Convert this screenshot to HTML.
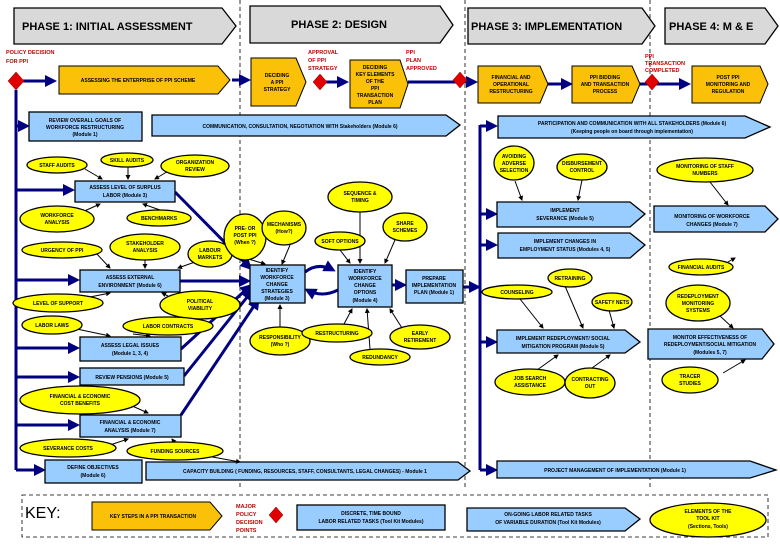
<!DOCTYPE html>
<html><head><meta charset="utf-8"><style>
body{margin:0;background:#fff}
svg text{font-family:"Liberation Sans",sans-serif;font-weight:bold;font-size:5px;text-anchor:middle;fill:#000}
.o{fill:#fbc108;stroke:#000;stroke-width:1}
.b{fill:#99ccff;stroke:#000;stroke-width:1.3}
.y{fill:#ffff00;stroke:#000;stroke-width:1.3}
.g{fill:#d9d9d9;stroke:#000;stroke-width:1.3}
.a{stroke:#000080;stroke-width:3;fill:none}
.k{stroke:#000;stroke-width:1;fill:none}
.r{fill:#e00000;stroke:#900;stroke-width:.5}
.rt{fill:#c00000;text-anchor:start;font-size:5.5px}
.ph{font-size:11px;text-anchor:start}
</style></head><body>
<svg width="780" height="540" viewBox="0 0 780 540" xmlns="http://www.w3.org/2000/svg">
<defs>
<marker id="na" markerWidth="4" markerHeight="4" refX="3" refY="2" orient="auto"><path d="M0,0 L4,2 L0,4z" fill="#000080"/></marker>
<marker id="ka" markerWidth="5" markerHeight="5" refX="4" refY="2.5" orient="auto"><path d="M0,0 L5,2.5 L0,5z" fill="#000"/></marker>
</defs>
<g stroke="#000" stroke-width=".8" stroke-dasharray="4,3">
<line x1="240" y1="0" x2="240" y2="490"/><line x1="465" y1="0" x2="465" y2="490"/><line x1="650" y1="0" x2="650" y2="490"/>
<rect x="22" y="495" width="746" height="42" fill="none"/>
</g>
<polygon class="g" points="14,8 222,8 236,26 222,44 14,44"/><text class="ph" x="22" y="30">PHASE 1:  INITIAL ASSESSMENT</text>
<polygon class="g" points="250,6 440,6 453,25 440,43 250,43"/><text class="ph" x="291" y="28">PHASE 2:  DESIGN</text>
<polygon class="g" points="468,8 642,8 655,26 642,44 468,44"/><text class="ph" x="471" y="30">PHASE 3: IMPLEMENTATION</text>
<polygon class="g" points="665,8 765,8 778,26 765,44 665,44"/><text class="ph" x="669" y="30">PHASE 4:  M &amp; E</text>
<text class="rt" x="6" y="54">POLICY DECISION</text><text class="rt" x="6" y="63">FOR PPI</text>
<text class="rt" x="308" y="54">APPROVAL</text><text class="rt" x="308" y="62">OF PPI</text><text class="rt" x="308" y="70">STRATEGY</text>
<text class="rt" x="406" y="54">PPI</text><text class="rt" x="406" y="62">PLAN</text><text class="rt" x="406" y="70">APPROVED</text>
<text class="rt" x="645" y="58">PPI</text><text class="rt" x="645" y="65">TRANSACTION</text><text class="rt" x="645" y="72">COMPLETED</text>
<line class="a" x1="22" y1="81" x2="54" y2="81" marker-end="url(#na)"/>
<line class="a" x1="232" y1="80" x2="248" y2="80" marker-end="url(#na)"/>
<line class="a" x1="326" y1="82" x2="346" y2="82" marker-end="url(#na)"/>
<line class="a" x1="408" y1="82" x2="475" y2="82" marker-end="url(#na)"/>
<line class="a" x1="548" y1="84" x2="570" y2="84" marker-end="url(#na)"/>
<line class="a" x1="640" y1="84" x2="688" y2="84" marker-end="url(#na)"/>
<polygon class="o" points="59,66 218,66 230,80 218,94 59,94"/><text x="138" y="82">ASSESSING THE ENTERPRISE OF PPI SCHEME</text>
<polygon class="o" points="251,58 296,58 306,82 296,106 251,106"/><text x="277" y="77">DECIDING</text><text x="277" y="84">A PPI</text><text x="277" y="91">STRATEGY</text>
<polygon class="o" points="350,60 400,60 408,84 400,108 350,108"/><text x="375" y="69">DECIDING</text><text x="375" y="76">KEY ELEMENTS</text><text x="375" y="83">OF THE</text><text x="375" y="90">PPI</text><text x="375" y="97">TRANSACTION</text><text x="375" y="104">PLAN</text>
<polygon class="o" points="478,66 540,66 548,84 540,103 478,103"/><text x="511" y="79">FINANCIAL AND</text><text x="511" y="86">OPERATIONAL</text><text x="511" y="93">RESTRUCTURING</text>
<polygon class="o" points="572,66 632,66 640,84 632,103 572,103"/><text x="605" y="79">PPI BIDDING</text><text x="605" y="86">AND TRANSACTION</text><text x="605" y="93">PROCESS</text>
<polygon class="o" points="692,66 760,66 768,84 760,103 692,103"/><text x="728" y="79">POST PPI</text><text x="728" y="86">MONITORING AND</text><text x="728" y="93">REGULATION</text>
<polygon class="r" points="16,72 24,81 16,90 8,81"/>
<polygon class="r" points="320,74 327,82 320,90 313,82"/>
<polygon class="r" points="460,72 467,80 460,88 453,80"/>
<polygon class="r" points="652,74 659,82 652,90 645,82"/>
<line class="a" x1="16" y1="90" x2="16" y2="470"/>
<line class="a" x1="16" y1="126" x2="27" y2="126" marker-end="url(#na)"/>
<line class="a" x1="16" y1="190" x2="72" y2="190" marker-end="url(#na)"/>
<line class="a" x1="16" y1="280" x2="77" y2="280" marker-end="url(#na)"/>
<line class="a" x1="16" y1="348" x2="77" y2="348" marker-end="url(#na)"/>
<line class="a" x1="16" y1="377" x2="77" y2="377" marker-end="url(#na)"/>
<line class="a" x1="16" y1="425" x2="77" y2="425" marker-end="url(#na)"/>
<line class="a" x1="16" y1="470" x2="43" y2="470" marker-end="url(#na)"/>
<g class="a" marker-end="url(#na)">
<line x1="175" y1="192" x2="250" y2="268"/>
<line x1="180" y1="281" x2="248" y2="281"/>
<line x1="181" y1="349" x2="250" y2="286"/>
<line x1="184" y1="376" x2="252" y2="291"/>
<line x1="181" y1="415" x2="258" y2="300"/>
<path d="M305,272 Q318,262 333,270"/>
<path d="M338,290 Q322,298 307,290"/>
<line x1="392" y1="285" x2="404" y2="285"/>
<line x1="463" y1="287" x2="478" y2="287"/>
</g>
<line class="a" x1="480" y1="125" x2="480" y2="470"/>
<g class="a" marker-end="url(#na)">
<line x1="480" y1="126" x2="495" y2="126"/>
<line x1="480" y1="214" x2="495" y2="214"/>
<line x1="480" y1="245" x2="495" y2="245"/>
<line x1="480" y1="342" x2="495" y2="342"/>
<line x1="480" y1="470" x2="495" y2="470"/>
</g>
<rect class="b" x="29" y="112" width="113" height="29"/><text x="85" y="122">REVIEW OVERALL GOALS OF</text><text x="85" y="129">WORKFORCE RESTRUCTURING</text><text x="85" y="136">(Module 1)</text>
<polygon class="b" points="152,115 446,115 460,125 446,136 152,136"/><text x="300" y="128">COMMUNICATION, CONSULTATION, NEGOTIATION WITH Stakeholders (Module 6)</text>
<polygon class="b" points="498,116 745,116 770,127 745,138 498,138"/><text x="632" y="125">PARTICIPATION AND COMMUNICATION WITH ALL STAKEHOLDERS (Module 6)</text><text x="632" y="133">(Keeping people on board through implementation)</text>
<rect class="b" x="75" y="181" width="100" height="21"/><text x="125" y="189">ASSESS LEVEL OF SURPLUS</text><text x="125" y="197">LABOR (Module 3)</text>
<rect class="b" x="80" y="270" width="100" height="22"/><text x="130" y="279">ASSESS EXTERNAL</text><text x="130" y="287">ENVIRONMENT (Module 6)</text>
<rect class="b" x="80" y="337" width="101" height="24"/><text x="130" y="347">ASSESS LEGAL ISSUES</text><text x="130" y="355">(Module 1, 3, 4)</text>
<rect class="b" x="80" y="368" width="104" height="17"/><text x="132" y="379">REVIEW PENSIONS (Module 5)</text>
<rect class="b" x="80" y="415" width="101" height="22"/><text x="130" y="424">FINANCIAL &amp; ECONOMIC</text><text x="130" y="432">ANALYSIS (Module 7)</text>
<rect class="b" x="45" y="460" width="97" height="23"/><text x="93" y="469">DEFINE OBJECTIVES</text><text x="93" y="477">(Module 6)</text>
<polygon class="b" points="146,462 458,462 470,471 458,480 146,480"/><text x="305" y="473">CAPACITY BUILDING   ( FUNDING, RESOURCES, STAFF, CONSULTANTS, LEGAL CHANGES) - Module 1</text>
<rect class="b" x="250" y="265" width="55" height="38"/><text x="277" y="272">IDENTIFY</text><text x="277" y="279">WORKFORCE</text><text x="277" y="286">CHANGE</text><text x="277" y="293">STRATEGIES</text><text x="277" y="300">(Module 3)</text>
<rect class="b" x="338" y="265" width="54" height="42"/><text x="365" y="273">IDENTIFY</text><text x="365" y="280">WORKFORCE</text><text x="365" y="287">CHANGE</text><text x="365" y="294">OPTIONS</text><text x="365" y="302">(Module 4)</text>
<rect class="b" x="406" y="270" width="57" height="33"/><text x="434" y="280">PREPARE</text><text x="434" y="287">IMPLEMENTATION</text><text x="434" y="294">PLAN (Module 1)</text>
<polygon class="b" points="497,202 630,202 645,214 630,227 497,227"/><text x="565" y="212">IMPLEMENT</text><text x="565" y="220">SEVERANCE (Module 5)</text>
<polygon class="b" points="498,233 630,233 645,245 630,258 498,258"/><text x="565" y="243">IMPLEMENT CHANGES IN</text><text x="565" y="251">EMPLOYMENT STATUS (Modules 4, 5)</text>
<polygon class="b" points="497,330 625,330 640,342 625,353 497,353"/><text x="563" y="340">IMPLEMENT REDEPLOYMENT/ SOCIAL</text><text x="563" y="348">MITIGATION PROGRAM (Module 5)</text>
<polygon class="b" points="497,461 750,461 776,470 750,478 497,478"/><text x="615" y="472">PROJECT MANAGEMENT OF IMPLEMENTATION (Module 1)</text>
<polygon class="b" points="654,206 765,206 778,219 765,232 654,232"/><text x="712" y="218">MONITORING OF WORKFORCE</text><text x="712" y="226">CHANGES (Module 7)</text>
<polygon class="b" points="648,329 762,329 774,344 762,359 648,359"/><text x="710" y="339">MONITOR EFFECTIVENESS OF</text><text x="710" y="346">REDEPLOYMENT/SOCIAL MITIGATION</text><text x="710" y="354">(Modules 5, 7)</text>
<g class="k" marker-end="url(#ka)">
<line x1="85" y1="169" x2="102" y2="179"/><line x1="128" y1="167" x2="128" y2="179"/><line x1="170" y1="170" x2="155" y2="179"/>
<line x1="80" y1="213" x2="100" y2="204"/><line x1="160" y1="210" x2="143" y2="204"/>
<line x1="95" y1="252" x2="110" y2="268"/><line x1="145" y1="260" x2="145" y2="268"/><line x1="195" y1="262" x2="178" y2="268"/>
<line x1="80" y1="299" x2="110" y2="293"/><line x1="168" y1="296" x2="162" y2="293"/>
<line x1="72" y1="328" x2="110" y2="336"/><line x1="133" y1="334" x2="150" y2="336"/>
<line x1="130" y1="405" x2="148" y2="413"/><line x1="110" y1="445" x2="128" y2="439"/><line x1="185" y1="452" x2="240" y2="462"/><line x1="175" y1="443" x2="172" y2="439"/>
<line x1="245" y1="258" x2="265" y2="264"/><line x1="290" y1="245" x2="282" y2="264"/><line x1="280" y1="327" x2="280" y2="305"/>
<line x1="360" y1="212" x2="360" y2="263"/><line x1="340" y1="250" x2="350" y2="263"/><line x1="395" y1="240" x2="385" y2="263"/>
<line x1="344" y1="324" x2="352" y2="309"/><line x1="370" y1="349" x2="367" y2="309"/><line x1="402" y1="328" x2="390" y2="309"/>
<line x1="515" y1="181" x2="522" y2="200"/><line x1="582" y1="180" x2="578" y2="200"/>
<line x1="710" y1="182" x2="728" y2="205"/><line x1="705" y1="275" x2="735" y2="258"/>
<line x1="520" y1="299" x2="543" y2="328"/><line x1="565" y1="286" x2="583" y2="328"/><line x1="609" y1="310" x2="614" y2="328"/>
<line x1="537" y1="370" x2="558" y2="355"/><line x1="592" y1="368" x2="610" y2="355"/>
<line x1="720" y1="316" x2="733" y2="328"/><line x1="723" y1="373" x2="745" y2="360"/>
</g>
<g class="y">
<ellipse cx="57" cy="165" rx="30" ry="8"/><ellipse cx="127" cy="160" rx="26" ry="7"/><ellipse cx="195" cy="166" rx="34" ry="11"/>
<ellipse cx="57" cy="219" rx="37" ry="13"/><ellipse cx="159" cy="218" rx="32" ry="8"/><ellipse cx="62" cy="250" rx="40" ry="8"/><ellipse cx="145" cy="247" rx="35" ry="13"/><ellipse cx="210" cy="254" rx="22" ry="13"/>
<ellipse cx="245" cy="237" rx="21" ry="23"/><ellipse cx="284" cy="228" rx="22" ry="17"/><ellipse cx="360" cy="197" rx="32" ry="15"/><ellipse cx="340" cy="241" rx="25" ry="9"/><ellipse cx="405" cy="227" rx="22" ry="14"/>
<ellipse cx="58" cy="303" rx="45" ry="9"/><ellipse cx="200" cy="305" rx="40" ry="14"/><ellipse cx="52" cy="325" rx="30" ry="9"/><ellipse cx="168" cy="326" rx="45" ry="9"/>
<ellipse cx="80" cy="400" rx="60" ry="14"/><ellipse cx="68" cy="448" rx="48" ry="9"/><ellipse cx="175" cy="451" rx="48" ry="9"/>
<ellipse cx="280" cy="341" rx="30" ry="14"/><ellipse cx="337" cy="333" rx="35" ry="9"/><ellipse cx="380" cy="357" rx="30" ry="8"/><ellipse cx="420" cy="337" rx="30" ry="12"/>
<ellipse cx="514" cy="163" rx="20" ry="17"/><ellipse cx="582" cy="167" rx="25" ry="13"/><ellipse cx="701" cy="267" rx="32" ry="8"/>
<ellipse cx="570" cy="278" rx="22" ry="9"/><ellipse cx="517" cy="292" rx="35" ry="7"/><ellipse cx="612" cy="302" rx="20" ry="9"/>
<ellipse cx="530" cy="382" rx="35" ry="13"/><ellipse cx="590" cy="383" rx="25" ry="15"/>
<ellipse cx="705" cy="170" rx="48" ry="12"/><ellipse cx="698" cy="303" rx="32" ry="18"/><ellipse cx="690" cy="380" rx="28" ry="13"/>
<ellipse cx="708" cy="520" rx="58" ry="17"/>
</g>
<text x="57" y="167">STAFF AUDITS</text><text x="127" y="162">SKILL AUDITS</text><text x="195" y="164">ORGANIZATION</text><text x="195" y="171">REVIEW</text>
<text x="57" y="217">WORKFORCE</text><text x="57" y="224">ANALYSIS</text><text x="159" y="220">BENCHMARKS</text><text x="62" y="252">URGENCY OF PPI</text><text x="145" y="245">STAKEHOLDER</text><text x="145" y="252">ANALYSIS</text><text x="210" y="252">LABOUR</text><text x="210" y="259">MARKETS</text>
<text x="245" y="230">PRE- OR</text><text x="245" y="237">POST PPI</text><text x="245" y="244">(When ?)</text><text x="284" y="226">MECHANISMS</text><text x="284" y="233">(How?)</text>
<text x="360" y="195">SEQUENCE &amp;</text><text x="360" y="202">TIMING</text><text x="340" y="243">SOFT OPTIONS</text><text x="405" y="225">SHARE</text><text x="405" y="232">SCHEMES</text>
<text x="58" y="305">LEVEL OF SUPPORT</text><text x="200" y="303">POLITICAL</text><text x="200" y="310">VIABILITY</text><text x="52" y="327">LABOR LAWS</text><text x="168" y="328">LABOR CONTRACTS</text>
<text x="80" y="398">FINANCIAL &amp; ECONOMIC</text><text x="80" y="405">COST BENEFITS</text><text x="68" y="450">SEVERANCE COSTS</text><text x="175" y="453">FUNDING SOURCES</text>
<text x="280" y="339">RESPONSIBILITY</text><text x="280" y="346">(Who ?)</text><text x="337" y="335">RESTRUCTURING</text><text x="380" y="359">REDUNDANCY</text><text x="420" y="335">EARLY</text><text x="420" y="342">RETIREMENT</text>
<text x="514" y="158">AVOIDING</text><text x="514" y="165">ADVERSE</text><text x="514" y="172">SELECTION</text><text x="582" y="165">DISBURSEMENT</text><text x="582" y="172">CONTROL</text><text x="701" y="269">FINANCIAL AUDITS</text>
<text x="570" y="280">RETRAINING</text><text x="517" y="294">COUNSELING</text><text x="612" y="304">SAFETY NETS</text>
<text x="530" y="380">JOB SEARCH</text><text x="530" y="387">ASSISTANCE</text><text x="590" y="381">CONTRACTING</text><text x="590" y="388">OUT</text>
<text x="705" y="168">MONITORING OF STAFF</text><text x="705" y="175">NUMBERS</text><text x="698" y="298">REDEPLOYMENT</text><text x="698" y="305">MONITORING</text><text x="698" y="312">SYSTEMS</text><text x="690" y="378">TRACER</text><text x="690" y="385">STUDIES</text>
<text x="25" y="518" style="font-size:16px;font-weight:normal;text-anchor:start">KEY:</text>
<polygon class="o" points="92,502 210,502 222,516 210,530 92,530"/><text x="153" y="518">KEY STEPS IN A PPI TRANSACTION</text>
<text class="rt" x="236" y="508">MAJOR</text><text class="rt" x="236" y="516">POLICY</text><text class="rt" x="236" y="524">DECISION</text><text class="rt" x="236" y="532">POINTS</text>
<polygon class="r" points="276,507 283,515 276,523 269,515"/>
<rect class="b" x="297" y="505" width="148" height="25"/><text x="371" y="515">DISCRETE, TIME BOUND</text><text x="371" y="523">LABOR RELATED TASKS (Tool Kit Modules)</text>
<polygon class="b" points="467,508 625,508 640,519 625,531 467,531"/><text x="548" y="516">ON-GOING LABOR RELATED TASKS</text><text x="548" y="524">OF VARIABLE DURATION (Tool Kit Modules)</text>
<text x="708" y="513">ELEMENTS OF THE</text><text x="708" y="520">TOOL KIT</text><text x="708" y="528">(Sections, Tools)</text>
</svg>
</body></html>
